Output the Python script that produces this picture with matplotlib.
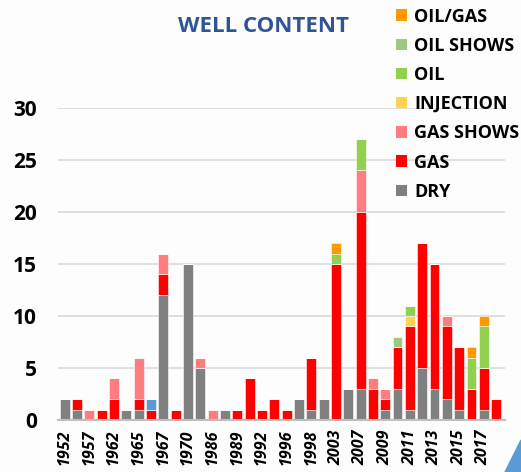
import matplotlib
matplotlib.use("Agg")
import matplotlib.pyplot as plt
import numpy as np
from matplotlib.patches import Polygon, Patch

tick_labels = ["1952", "1957", "1962", "1965", "1967", "1970", "1986", "1989", "1992",
               "1996", "1998", "2003", "2007", "2009", "2011", "2013", "2015", "2017"]

dry       = [2, 1, 0, 0, 0, 1, 1, 0, 12, 0, 15, 5, 0, 1, 0, 0, 0, 0, 0, 2, 1, 2, 0, 3, 3, 0, 1, 3, 1, 5, 3, 2, 1, 0, 1, 0]
gas       = [0, 1, 0, 1, 2, 0, 1, 1, 2, 1, 0, 0, 0, 0, 1, 4, 1, 2, 1, 0, 5, 0, 15, 0, 17, 3, 1, 4, 8, 12, 12, 7, 6, 3, 4, 2]
gas_shows = [0, 0, 1, 0, 2, 0, 4, 0, 2, 0, 0, 1, 1, 0, 0, 0, 0, 0, 0, 0, 0, 0, 0, 0, 4, 1, 1, 0, 0, 0, 0, 1, 0, 0, 0, 0]
injection = [0, 0, 0, 0, 0, 0, 0, 0, 0, 0, 0, 0, 0, 0, 0, 0, 0, 0, 0, 0, 0, 0, 0, 0, 0, 0, 0, 0, 1, 0, 0, 0, 0, 0, 0, 0]
other     = [0, 0, 0, 0, 0, 0, 0, 1, 0, 0, 0, 0, 0, 0, 0, 0, 0, 0, 0, 0, 0, 0, 0, 0, 0, 0, 0, 0, 0, 0, 0, 0, 0, 0, 0, 0]
oil       = [0, 0, 0, 0, 0, 0, 0, 0, 0, 0, 0, 0, 0, 0, 0, 0, 0, 0, 0, 0, 0, 0, 1, 0, 3, 0, 0, 0, 1, 0, 0, 0, 0, 3, 4, 0]
oil_shows = [0, 0, 0, 0, 0, 0, 0, 0, 0, 0, 0, 0, 0, 0, 0, 0, 0, 0, 0, 0, 0, 0, 0, 0, 0, 0, 0, 1, 0, 0, 0, 0, 0, 0, 0, 0]
oil_gas   = [0, 0, 0, 0, 0, 0, 0, 0, 0, 0, 0, 0, 0, 0, 0, 0, 0, 0, 0, 0, 0, 0, 1, 0, 0, 0, 0, 0, 0, 0, 0, 0, 0, 1, 1, 0]

series = [
    ("DRY", dry, "#808080"),
    ("GAS", gas, "#FF0000"),
    ("GAS SHOWS", gas_shows, "#FF7C80"),
    ("INJECTION", injection, "#FFD34D"),
    ("_other", other, "#5B9BD5"),
    ("OIL", oil, "#92D050"),
    ("OIL SHOWS", oil_shows, "#A0C880"),
    ("OIL/GAS", oil_gas, "#FF9900"),
]

plt.rcParams['font.family'] = ['Open Sans', 'DejaVu Sans']

fig = plt.figure(figsize=(5.21, 4.72), dpi=100, facecolor="#FDFDFD")
ax = fig.add_axes([0.111, 0.110, 0.858, 0.661])
ax.set_facecolor("#FDFDFD")

x = np.arange(len(dry))
bottom = np.zeros(len(dry))
handles = []
for name, vals, col in series:
    v = np.array(vals, dtype=float)
    ax.bar(x, v, bottom=bottom, width=0.8, color=col, edgecolor="#FDFDFD",
           linewidth=0.4, zorder=3)
    bottom += v
    if not name.startswith("_"):
        handles.append(Patch(facecolor=col, label=name))

ax.set_xlim(-0.55, 35.7)
ax.set_ylim(0, 30)
ax.set_yticks([0, 5, 10, 15, 20, 25, 30])
ax.set_yticklabels(["0", "5", "10", "15", "20", "25", "30"], fontsize=15, fontweight="bold")
ax.set_xticks(x[::2])
ax.set_xticklabels(tick_labels, rotation=90, fontsize=11.5, fontweight="bold", style="italic")
ax.tick_params(axis="y", length=0, pad=15)
ax.tick_params(axis="x", length=0, pad=7)
ax.yaxis.grid(True, color="#D9D9D9", linewidth=1.2, zorder=0)
for s in ["top", "right", "left"]:
    ax.spines[s].set_visible(False)
ax.spines["bottom"].set_color("#BFBFBF")
ax.spines["bottom"].set_linewidth(1.5)
ax.spines["bottom"].set_zorder(4)

fig.text(0.506, 0.943, "WELL CONTENT", ha="center", va="center", fontsize=16,
         fontweight="bold", color="#2F5597")

leg = fig.legend(handles=handles[::-1], loc="upper left", bbox_to_anchor=(0.74, 1.007),
                 frameon=False, prop={"weight": "bold", "size": 13},
                 handlelength=0.6, handleheight=0.6, handletextpad=0.4,
                 labelspacing=0.62, borderaxespad=0.2)

tri = Polygon([[505 / 521, 0], [1.0, 32 / 472], [1.0, 0]], closed=True,
              transform=fig.transFigure, color="#5B9BD5", zorder=0)
fig.patches.append(tri)

fig.savefig("out.png", dpi=100, facecolor=fig.get_facecolor())
